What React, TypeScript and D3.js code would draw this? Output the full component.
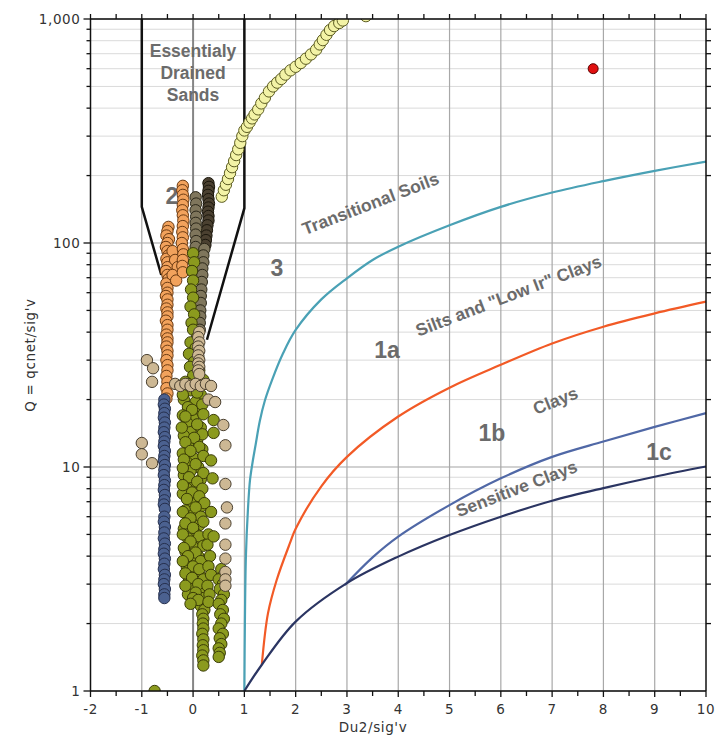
import React from "react";
import * as d3 from "d3";

const W = 718;
const H = 742;

// Axis domains / tick labels
const xTicks = [-2, -1, 0, 1, 2, 3, 4, 5, 6, 7, 8, 9, 10];
const yTicks = [1, 10, 100, 1000];
const yTickLabels = ["1", "10", "100", "1,000"];

// Boundary curves [x, Q]
const transitional: [number, number][] = [
  [1, 1], [1.01, 2], [1.03, 4], [1.07, 6.5], [1.11, 8.75], [1.16, 10.5], [1.22, 12.6],
  [1.3, 16], [1.4, 19.8], [1.55, 24.8], [1.75, 32], [2, 40.9], [2.5, 56], [3, 69.6],
  [3.5, 84], [4, 96.3], [5, 120], [6, 145], [7, 168], [8, 189], [9, 210], [10, 231],
];
const siltsClays: [number, number][] = [
  [1.34, 1.31], [1.46, 2.22], [1.63, 3.13], [1.89, 4.58], [2, 5.3], [2.5, 8.2], [3, 11.1],
  [4, 16.8], [5, 22.6], [6, 28.6], [7, 35.6], [8, 42.3], [9, 48.5], [10, 54.7],
];
const claysLine: [number, number][] = [
  [2.96, 2.97], [3.5, 3.95], [4, 4.89], [5, 6.76], [6, 8.9], [7, 11.1], [8, 13.0], [9, 15.1], [10, 17.4],
];
const sensitiveLine: [number, number][] = [
  [1, 1], [1.34, 1.31], [2, 2.04], [3, 3.03], [4, 3.98], [5, 4.97], [6, 6.0], [7, 7.07],
  [8, 8.05], [9, 9.05], [10, 10.05],
];
const sandsLeft: [number, number][] = [[-1, 1000], [-1, 145], [-0.62, 72]];
const sandsRight: [number, number][] = [[1, 1000], [1, 143], [0.27, 37]];

// Scatter series [x, Q]
const orangePts: [number, number][] = [
  [-0.48, 118], [-0.5, 113], [-0.52, 108], [-0.47, 104], [-0.5, 100], [-0.53, 96], [-0.5, 92],
  [-0.48, 88], [-0.52, 85], [-0.5, 82], [-0.5, 78], [-0.53, 75], [-0.5, 72], [-0.48, 69],
  [-0.52, 66], [-0.5, 63], [-0.5, 60], [-0.53, 58], [-0.5, 56], [-0.5, 53], [-0.52, 51],
  [-0.5, 49], [-0.5, 47], [-0.53, 45], [-0.5, 43], [-0.5, 41], [-0.52, 39], [-0.5, 37.5],
  [-0.5, 36], [-0.52, 34.5], [-0.5, 33], [-0.5, 31.5], [-0.52, 30], [-0.5, 28.5], [-0.5, 27],
  [-0.52, 25.5], [-0.5, 24], [-0.52, 22.5], [-0.5, 21.3], [-0.52, 20.2],
  [-0.4, 92], [-0.35, 84], [-0.3, 78], [-0.4, 72], [-0.33, 68],
  [-0.2, 180], [-0.21, 172], [-0.2, 164], [-0.19, 156], [-0.2, 148], [-0.21, 140], [-0.2, 133],
  [-0.19, 126], [-0.2, 119], [-0.21, 112], [-0.2, 106], [-0.22, 100], [-0.2, 94], [-0.19, 89],
  [-0.2, 84], [-0.21, 79], [-0.2, 74],
];
const navyPts: [number, number][] = [
  [-0.56, 20], [-0.57, 19], [-0.55, 18.2], [-0.56, 17.4], [-0.57, 16.6], [-0.55, 15.8],
  [-0.56, 15], [-0.57, 14.3], [-0.55, 13.6], [-0.56, 13], [-0.57, 12.4], [-0.55, 11.8],
  [-0.56, 11.2], [-0.57, 10.7], [-0.55, 10.2], [-0.56, 9.7], [-0.57, 9.2], [-0.55, 8.7],
  [-0.56, 8.3], [-0.57, 7.9], [-0.55, 7.5], [-0.56, 7.1], [-0.57, 6.8], [-0.55, 6.5],
  [-0.56, 6.0], [-0.57, 5.7], [-0.55, 5.4], [-0.56, 5.1], [-0.57, 4.8], [-0.55, 4.55],
  [-0.56, 4.3], [-0.57, 4.1], [-0.55, 3.9], [-0.56, 3.7], [-0.57, 3.5], [-0.55, 3.3],
  [-0.56, 3.15], [-0.57, 3.0], [-0.55, 2.85], [-0.56, 2.7], [-0.56, 2.6],
];
const darkPts: [number, number][] = [
  [0.3, 185], [0.31, 178], [0.3, 171], [0.29, 164], [0.3, 157], [0.31, 150], [0.3, 144],
  [0.29, 138], [0.3, 132], [0.3, 126], [0.28, 120], [0.27, 114], [0.26, 108], [0.25, 103], [0.24, 98],
];
const greyBrownPts: [number, number][] = [
  [0.05, 160], [0.06, 150], [0.05, 140], [0.06, 131], [0.05, 123], [0.06, 116], [0.05, 109],
  [0.06, 102], [0.05, 96],
  [0.22, 94], [0.2, 88], [0.2, 82], [0.18, 77], [0.18, 72], [0.17, 67], [0.16, 62], [0.15, 58],
  [0.15, 54], [0.14, 50], [0.14, 47], [0.13, 44], [0.13, 41],
];
const olivePts: [number, number][] = [
  [0.0, 90], [0.02, 82], [-0.02, 75], [0.0, 68], [-0.04, 62], [0.0, 57], [-0.05, 52], [0.02, 48],
  [-0.03, 44], [0.0, 41], [0.08, 38], [-0.05, 36], [0.05, 34], [-0.08, 32], [0.1, 31],
  [0.02, 29.5], [-0.06, 28], [0.12, 27], [0.0, 25.5],
  [-0.15, 24], [0.1, 23], [-0.05, 22], [0.15, 21], [-0.18, 20], [0.05, 19.5], [-0.1, 18.5],
  [0.12, 18], [-0.2, 17], [0.0, 16.5], [-0.12, 15.8], [0.15, 15], [-0.05, 14.3], [-0.18, 13.8],
  [0.08, 13.2], [-0.1, 12.6], [0.18, 12], [-0.2, 11.5], [0.0, 11], [-0.12, 10.5], [0.1, 10],
  [-0.05, 9.6], [-0.18, 9.2], [0.15, 8.8], [0.02, 8.4], [-0.12, 8], [-0.2, 7.6], [0.08, 7.3],
  [-0.05, 7], [0.17, 6.7], [-0.15, 6.4], [0.0, 6.1], [-0.08, 5.8], [0.12, 5.5], [-0.18, 5.3],
  [0.05, 5.05], [-0.1, 4.8], [0.18, 4.6], [0.0, 4.4], [-0.15, 4.2], [0.1, 4.0], [-0.05, 3.85],
  [0.2, 3.7], [-0.12, 3.55], [0.05, 3.4], [0.15, 3.25], [-0.08, 3.1], [0.22, 3.0], [0.0, 2.9],
  [0.12, 2.8], [-0.1, 2.7], [0.2, 2.6], [0.05, 2.5], [0.15, 2.4], [0.22, 2.3],
  [0.2, 24.5], [-0.1, 23.5], [0.08, 21.5], [-0.2, 21], [0.18, 19], [-0.02, 18], [0.2, 17.2],
  [-0.15, 16.8], [0.08, 15.5], [-0.22, 15], [0.18, 14], [0.02, 13.5], [-0.15, 12.9], [0.12, 12.3],
  [-0.05, 11.8], [0.2, 11.2], [-0.18, 10.8], [0.05, 10.3], [-0.2, 9.9], [0.2, 9.4], [-0.08, 9.0],
  [0.08, 8.6], [-0.2, 8.3], [0.18, 8.0], [-0.02, 7.7], [0.12, 7.4], [-0.12, 7.2], [0.22, 6.9],
  [0.05, 6.6], [-0.2, 6.3], [0.15, 6.0], [-0.05, 5.9], [0.2, 5.7], [-0.15, 5.6], [0.0, 5.35],
  [-0.2, 5.0], [0.12, 4.9], [-0.05, 4.65], [0.2, 4.45], [-0.18, 4.35], [0.05, 4.15], [-0.1, 4.0],
  [0.15, 3.8], [-0.2, 3.8], [0.0, 3.6], [0.12, 3.5], [-0.15, 3.35], [0.2, 3.15], [-0.02, 3.2],
  [0.1, 3.0], [-0.15, 2.95], [0.05, 2.75], [0.0, 2.6], [0.1, 2.55], [-0.05, 2.45],
  [0.3, 5], [0.28, 4.5], [0.33, 4], [0.3, 3.6], [0.35, 3.3], [0.28, 2.95], [0.32, 2.7], [0.3, 2.5],
  [0.18, 2.2], [0.2, 2.1], [0.19, 2.0], [0.2, 1.9], [0.18, 1.8], [0.2, 1.7], [0.19, 1.6],
  [0.2, 1.52], [0.18, 1.44], [0.2, 1.37], [0.2, 1.3],
  [0.55, 3.5], [0.6, 3.3], [0.5, 3.15], [0.58, 3.0], [0.52, 2.85], [0.6, 2.7], [0.55, 2.55],
  [0.5, 2.45], [0.58, 2.3], [0.53, 2.2], [0.6, 2.1], [0.55, 2.0], [0.5, 1.9], [0.58, 1.8],
  [0.52, 1.72], [0.55, 1.62], [0.5, 1.55], [0.52, 1.48], [0.5, 1.42],
  [0.4, 16.2], [0.4, 14.2], [0.35, 10.7], [0.38, 8.9], [0.35, 6.3], [0.4, 4.9],
  [-0.75, 1.0],
];
const tanPts: [number, number][] = [
  [-0.9, 30], [-0.78, 27.6], [-0.8, 24], [-1.0, 12.8], [-1.0, 11.4], [-0.8, 10.4],
  [0.12, 40], [0.1, 38], [0.12, 36], [0.1, 34.5], [0.12, 33], [0.1, 31.5], [0.12, 30],
  [0.1, 29], [0.12, 28], [0.1, 27], [0.12, 26],
  [-0.35, 23.5], [-0.25, 23], [-0.15, 23.5], [-0.05, 23], [0.05, 23.5], [0.15, 23],
  [0.25, 23.5], [0.35, 23],
  [0.3, 20], [0.43, 19.5], [0.59, 15.4], [0.63, 12.5], [0.63, 8.4], [0.66, 6.6], [0.63, 5.6],
  [0.63, 4.5], [0.63, 3.9], [0.63, 3.4], [0.63, 3.15], [0.63, 2.95],
];
const yellowPts: [number, number][] = [
  [0.56, 161], [0.6, 172], [0.64, 182], [0.68, 193], [0.72, 205], [0.76, 218], [0.8, 232],
  [0.84, 247], [0.88, 262], [0.92, 280], [0.96, 300], [1.0, 318], [1.05, 330], [1.1, 345],
  [1.15, 360], [1.2, 375], [1.27, 395], [1.33, 420], [1.4, 445], [1.48, 475], [1.56, 500],
  [1.64, 520], [1.72, 540], [1.8, 565], [1.9, 590], [2.0, 612], [2.1, 636], [2.2, 665],
  [2.3, 695], [2.4, 730], [2.47, 770], [2.53, 805], [2.6, 850], [2.67, 893], [2.75, 930],
  [2.85, 960], [2.92, 985], [3.37, 1030],
];
const redPts: [number, number][] = [[7.8, 600]];

const series = [
  { pts: orangePts, fill: "#f2a25c", stroke: "#6a3a12" },
  { pts: darkPts, fill: "#4a4030", stroke: "#1a160c" },
  { pts: greyBrownPts, fill: "#7f765c", stroke: "#2a2618" },
  { pts: olivePts, fill: "#8b9a1e", stroke: "#3a3c08" },
  { pts: tanPts, fill: "#cdb894", stroke: "#4a4030" },
  { pts: navyPts, fill: "#4b6190", stroke: "#26304e" },
  { pts: yellowPts, fill: "#f3f3a6", stroke: "#5c5c22" },
  { pts: redPts, fill: "#e01010", stroke: "#5a0000" },
];

const curves = [
  { pts: transitional, color: "#4aa1b5" },
  { pts: siltsClays, color: "#f25a26" },
  { pts: claysLine, color: "#5068a6" },
  { pts: sensitiveLine, color: "#2b3562" },
];

const L = 90.5, R = 706, T = 19, B = 691;

export default function App() {
  const x = d3.scaleLinear().domain([-2, 10]).range([L, R]);
  const y = d3.scaleLog().domain([1, 1000]).range([B, T]);
  const line = d3.line<[number, number]>().x(d => x(d[0])).y(d => y(d[1])).curve(d3.curveCatmullRom.alpha(0.5));
  const poly = d3.line<[number, number]>().x(d => x(d[0])).y(d => y(d[1]));

  const minorY: number[] = [];
  for (let k = 0; k < 3; k++) for (let m = 2; m <= 9; m++) minorY.push(m * Math.pow(10, k));
  const halfX: number[] = [];
  for (let v = -2; v <= 10.001; v += 0.5) halfX.push(Math.round(v * 2) / 2);

  const lblStyle = { fontFamily: "Liberation Sans, Arial, sans-serif", fontWeight: 700, fill: "#6b6b6b" } as const;
  const tickFont = { fontFamily: "DejaVu Sans, Verdana, sans-serif", fontSize: 13.5, fill: "#333", letterSpacing: 0.6 } as const;

  const rotLabel = (txt: string, cx: number, cy: number, ang: number, size: number) => (
    <text key={txt} transform={`translate(${cx},${cy}) rotate(${ang})`} textAnchor="middle" dominantBaseline="middle"
      style={{ ...lblStyle, fontSize: size }}>{txt}</text>
  );

  return (
    <svg width={W} height={H} style={{ position: "absolute", left: 0, top: 0, background: "#fff" }}>
      <defs>
        <clipPath id="plot"><rect x={L} y={T} width={R - L} height={B - T} /></clipPath>
      </defs>
      {/* gridlines */}
      {minorY.map(v => (
        <line key={"my" + v} x1={L} x2={R} y1={y(v)} y2={y(v)} stroke="#dadada" strokeWidth={1} />
      ))}
      {yTicks.map(v => (
        <line key={"gy" + v} x1={L} x2={R} y1={y(v)} y2={y(v)} stroke="#a3a3a3" strokeWidth={1.2} />
      ))}
      {xTicks.filter(v => v > -2 && v < 10).map(v => (
        <line key={"gx" + v} x1={x(v)} x2={x(v)} y1={T} y2={B} stroke={v === 0 ? "#858585" : "#a8a8a8"} strokeWidth={v === 0 ? 2 : 1.2} />
      ))}

      {/* Essentially drained sands boundary */}
      <path d={poly(sandsLeft) || ""} fill="none" stroke="#111" strokeWidth={2.5} />
      <path d={poly(sandsRight) || ""} fill="none" stroke="#111" strokeWidth={2.5} />

      {/* boundary curves */}
      {curves.map((c, i) => (
        <path key={"c" + i} d={line(c.pts) || ""} fill="none" stroke={c.color} strokeWidth={2.2} />
      ))}

      {/* labels */}
      <text x={193} y={57} textAnchor="middle" style={{ ...lblStyle, fontSize: 17.5 }}>Essentialy</text>
      <text x={193} y={79} textAnchor="middle" style={{ ...lblStyle, fontSize: 17.5 }}>Drained</text>
      <text x={193} y={101} textAnchor="middle" style={{ ...lblStyle, fontSize: 17.5 }}>Sands</text>
      <text x={172} y={204} textAnchor="middle" style={{ ...lblStyle, fontSize: 23 }}>2</text>
      <text x={277} y={276} textAnchor="middle" style={{ ...lblStyle, fontSize: 23 }}>3</text>
      <text x={387} y={358} textAnchor="middle" style={{ ...lblStyle, fontSize: 23 }}>1a</text>
      <text x={492} y={441} textAnchor="middle" style={{ ...lblStyle, fontSize: 23 }}>1b</text>
      <text x={659} y={460} textAnchor="middle" style={{ ...lblStyle, fontSize: 23 }}>1c</text>
      {rotLabel("Transitional Soils", 371, 205, -21, 17.5)}
      {rotLabel("Silts and \"Low Ir\" Clays", 509, 297, -21, 17.5)}
      {rotLabel("Clays", 556, 402, -22, 17.5)}
      {rotLabel("Sensitive Clays", 517, 490, -21, 17.5)}

      {/* scatter */}
      <g clipPath="url(#plot)">
        {series.map((s, si) =>
          s.pts.map((p, i) => (
            <circle key={si + "-" + i} cx={x(p[0])} cy={y(p[1])} r={si === 7 ? 5 : 5.7}
              fill={s.fill} stroke={s.stroke} strokeWidth={1} />
          ))
        )}
      </g>

      {/* axes frame */}
      <line x1={L} x2={R} y1={T} y2={T} stroke="#111" strokeWidth={1.5} />
      <line x1={L} x2={R} y1={B} y2={B} stroke="#111" strokeWidth={1.5} />
      <line x1={L} x2={L} y1={T} y2={B} stroke="#111" strokeWidth={1.5} />
      <line x1={R} x2={R} y1={T} y2={B} stroke="#111" strokeWidth={1.5} />

      {/* x ticks */}
      {halfX.map(v => (
        <g key={"xt" + v}>
          <line x1={x(v)} x2={x(v)} y1={B} y2={B + (Number.isInteger(v) ? 6 : 5)} stroke="#111" strokeWidth={1.3} />
          <line x1={x(v)} x2={x(v)} y1={T} y2={T - 5} stroke="#111" strokeWidth={1.3} />
        </g>
      ))}
      {xTicks.map(v => (
        <text key={"xl" + v} x={x(v)} y={714} textAnchor="middle" style={tickFont}>{v}</text>
      ))}

      {/* y ticks */}
      {minorY.map(v => (
        <g key={"yt" + v}>
          <line x1={L - 4} x2={L} y1={y(v)} y2={y(v)} stroke="#111" strokeWidth={1.3} />
          <line x1={R} x2={R + 5} y1={y(v)} y2={y(v)} stroke="#111" strokeWidth={1.3} />
        </g>
      ))}
      {yTicks.map((v, i) => (
        <g key={"yl" + v}>
          <line x1={L - 7} x2={L} y1={y(v)} y2={y(v)} stroke="#111" strokeWidth={1.3} />
          <text x={L - 10} y={y(v) + 5} textAnchor="end" style={tickFont}>{yTickLabels[i]}</text>
        </g>
      ))}

      {/* axis titles */}
      <text x={373} y={732} textAnchor="middle" style={tickFont}>Du2/sig'v</text>
      <text transform={`translate(35,355) rotate(-90)`} textAnchor="middle" style={tickFont}>Q = qcnet/sig'v</text>
    </svg>
  );
}
